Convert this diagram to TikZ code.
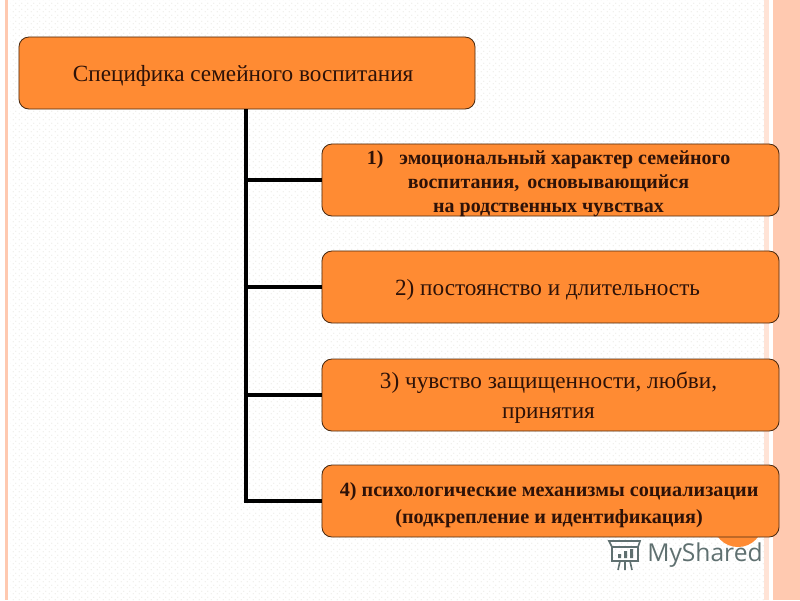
\documentclass[tikz,border=0pt]{standalone}
\usepackage{fontspec}
\usetikzlibrary{patterns}
\setmainfont{Liberation Serif}
\newfontfamily\logofont{Open Sans}
\definecolor{boxorange}{HTML}{FF8B33}
\definecolor{boxline}{HTML}{4A2A10}
\definecolor{boxtext}{HTML}{2E1208}
\definecolor{stripe}{HTML}{FFC9B0}
\definecolor{stripepale}{HTML}{FFE3D6}
\definecolor{dotgrey}{HTML}{DAD6CE}
\definecolor{logogrey}{HTML}{5F7070}
\pgfdeclarepatternformonly{softdots}{\pgfpointorigin}{\pgfpoint{4.27pt}{4.27pt}}{\pgfpoint{4.27pt}{4.27pt}}{
	\pgfpathcircle{\pgfpoint{1pt}{1pt}}{0.4pt}
	\pgfpathcircle{\pgfpoint{3.13pt}{3.13pt}}{0.4pt}
	\pgfusepath{fill}
}
\newcommand{\lowered}[2][-2.8pt]{\hspace*{#1}\raisebox{-6pt}[0pt][0pt]{\begin{tabular}{@{}c@{}}#2\end{tabular}}}
\tikzset{
	rootbox/.style={draw=boxline, line width=0.6pt, fill=boxorange, rounded corners=0.25cm, minimum width=11.4cm, minimum height=1.8cm, inner sep=0pt, text=boxtext},
	itembox/.style={rootbox, minimum width=11.425cm},
	bigtext/.style={font=\fontsize{16.5}{21.3}\selectfont},
	smalltext/.style={font=\fontsize{14.2}{17}\selectfont\bfseries},
	branch/.style={line width=0.1cm, black}
}
\begin{document}
\begin{tikzpicture}[x=0.025cm, y=-0.025cm]
		\useasboundingbox (0,0) rectangle (800,600);
		\fill[white] (0,0) rectangle (800,600);
		\fill[pattern=softdots, pattern color=dotgrey] (10,0) rectangle (764,600);
		\fill[stripe] (5,0) rectangle (8,600);
		\fill[stripepale] (764,0) rectangle (769,600);
		\fill[stripe] (773,0) rectangle (800,600);
		\fill[boxorange] (738,522) circle (25);
		\node[rootbox, bigtext] (root) at (247,73) {\lowered[-5.5pt]{Специфика семейного воспитания}};
		\node[itembox, smalltext] (item1) at (550.5,180) {\lowered{1)\hspace{0.8em}эмоциональный характер семейного\\воспитания,\hspace{0.4em}основывающийся\\на родственных чувствах}};
		\node[itembox, bigtext] (item2) at (550.5,287) {\lowered[-4.2pt]{2) постоянство и длительность}};
		\node[itembox, bigtext] (item3) at (550.5,395) {\lowered{3) чувство защищенности, любви,\\принятия}};
		\node[itembox, font=\fontsize{14.35}{19.2}\selectfont\bfseries] (item4) at (550.5,501) {\lowered[-2pt]{4) психологические механизмы социализации\\(подкрепление и идентификация)}};
		\coordinate (trunk) at ([xshift=-0.025cm]root.south);
		\draw[branch] (trunk) -- (trunk |- item4.west);
		\draw[branch] (trunk |- item1.west) -- (item1.west);
		\draw[branch] (trunk |- item2.west) -- (item2.west);
		\draw[branch] (trunk |- item3.west) -- (item3.west);
		\draw[branch] ([xshift=-0.05cm]trunk |- item4.west) -- (item4.west);
		\node[text=logogrey, font=\logofont\fontsize{17.5}{17.5}\selectfont, anchor=west, inner sep=0pt] (logo) at (647,555) {MyShared};
		\draw[logogrey, line width=0.05cm] (612,547) rectangle (638,561);
		\draw[logogrey, line width=0.04cm] (612,547) -- (609,541) -- (640,541) -- (638,547);
		\fill[logogrey] (618,554) rectangle (621,558) (624,551) rectangle (627,558) (630,549) rectangle (633,558);
		\draw[logogrey, line width=0.04cm] (620,561) -- (618,570) (625,561) -- (625,570) (630,561) -- (632,570);
		\end{tikzpicture}
\end{document}
